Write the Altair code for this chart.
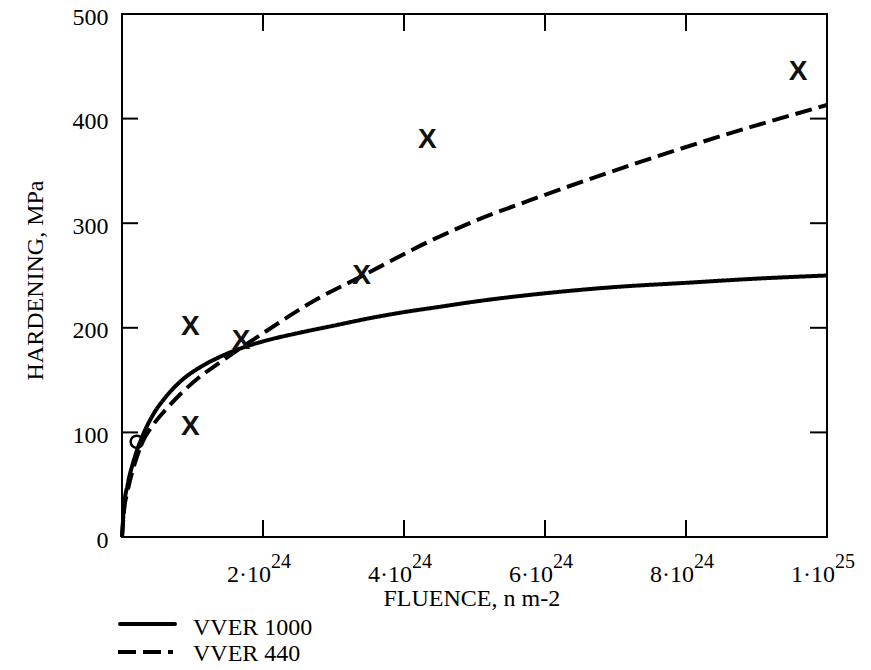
import altair as alt
import pandas as pd

# Fluence in units of 1e24 n/m^2, hardening in MPa
f_1000 = [0, 0.03, 0.08, 0.18, 0.3, 0.45, 0.61, 0.85, 1.1, 1.35, 1.67, 2.0, 2.5, 3.0, 3.5, 4.0, 4.5, 5.0, 6.0, 7.0, 8.0, 9.0, 10.0]
h_1000 = [0, 30, 50, 76, 98, 118, 133, 150, 162, 171, 180, 187, 195, 202, 209, 215, 220, 225, 233, 239, 243, 247, 250]

f_440 = [0, 0.03, 0.08, 0.18, 0.3, 0.45, 0.61, 0.85, 1.1, 1.35, 1.67, 2.14, 2.7, 3.42, 4.37, 5.0, 5.79, 7.06, 8.48, 10.0]
h_440 = [0, 26, 44, 70, 92, 108, 121, 138, 153, 165, 180, 201, 225, 250, 283, 302, 322, 352, 383, 413]

# measured points ("X" markers) and the single "o" point
x_pts_f = [0.97, 0.97, 1.69, 3.40, 4.33, 9.59]
x_pts_h = [201, 105, 187, 250, 380, 445]
o_pts_f = [0.21]
o_pts_h = [91]

# tick values and labels
xtick_vals = [2, 4, 6, 8, 10]
xtick_base = ["2·10", "4·10", "6·10", "8·10", "1·10"]
xtick_exp = ["24", "24", "24", "24", "25"]
ytick_vals = [0, 100, 200, 300, 400, 500]
yinner_ticks = [100, 200, 300, 400]

series_names = ["VVER 1000", "VVER 440"]

SERIF = "Liberation Serif"
W, H = 705, 523

curves = pd.concat([
    pd.DataFrame({"f": f_1000, "h": h_1000, "s": series_names[0]}),
    pd.DataFrame({"f": f_440, "h": h_440, "s": series_names[1]}),
])
xpts = pd.DataFrame({"f": x_pts_f, "h": x_pts_h})
opts = pd.DataFrame({"f": o_pts_f, "h": o_pts_h})
xt = pd.DataFrame({"f": xtick_vals, "base": xtick_base, "exp": xtick_exp})
yt = pd.DataFrame({"h": yinner_ticks})

xscale = alt.Scale(domain=[0, 10], nice=False, zero=False)
yscale = alt.Scale(domain=[0, 500], nice=False)

xaxis = alt.Axis(labels=False, ticks=False, domain=False, grid=False,
                 title="FLUENCE, n m-2", titleFont=SERIF, titleFontSize=24,
                 titleFontWeight="normal", titleColor="black",
                 titleX=261, titleY=68, titleAlign="left", titleBaseline="alphabetic")
yaxis = alt.Axis(values=ytick_vals, ticks=False, tickSize=0, domain=False, grid=False,
                 labelFont=SERIF, labelFontSize=24, labelColor="black", labelPadding=14,
                 labelOffset=3,
                 title="HARDENING, MPa", titleFont=SERIF, titleFontSize=24,
                 titleFontWeight="normal", titleColor="black", titleAngle=270,
                 titleX=-80, titleY=366, titleAlign="left", titleBaseline="alphabetic")

X = alt.X("f:Q", scale=xscale, axis=xaxis)
Y = alt.Y("h:Q", scale=yscale, axis=yaxis)

omarks = alt.Chart(opts).mark_point(shape="circle", size=150, strokeWidth=2.5, color="black",
                                    opacity=1, filled=False).encode(x=X, y=Y)

lines = alt.Chart(curves).mark_line(strokeWidth=4, color="black", interpolate="monotone").encode(
    x=X, y=Y,
    strokeDash=alt.StrokeDash("s:N", scale=alt.Scale(domain=series_names, range=[[1, 0], [17, 7]]), legend=None),
    detail="s:N",
)

xmarks = alt.Chart(xpts).mark_text(text="X", font="Liberation Sans", fontWeight="bold",
                                   fontSize=28, align="center", baseline="middle",
                                   color="#111").encode(x=X, y=Y)

ytick_left = alt.Chart(yt).mark_rule(strokeWidth=2, color="black").encode(
    y=Y, x=alt.value(0), x2=alt.value(16))
ytick_right = alt.Chart(yt).mark_rule(strokeWidth=2, color="black").encode(
    y=Y, x=alt.value(W - 17), x2=alt.value(W))
xtick_bottom = alt.Chart(xt[xt.f < 10]).mark_rule(strokeWidth=2, color="black").encode(
    x=X, y=alt.value(H - 17), y2=alt.value(H))
xtick_top = alt.Chart(xt[xt.f < 10]).mark_rule(strokeWidth=2, color="black").encode(
    x=X, y=alt.value(0), y2=alt.value(17))

xlab_base = alt.Chart(xt).mark_text(align="right", baseline="alphabetic", dx=8,
                                    font=SERIF, fontSize=24, color="black").encode(
    x=X, y=alt.value(568), text="base:N")
xlab_exp = alt.Chart(xt).mark_text(align="left", baseline="alphabetic", dx=8,
                                   font=SERIF, fontSize=20, color="black").encode(
    x=X, y=alt.value(554), text="exp:N")

leg1 = pd.DataFrame({"s": [series_names[0]]})
leg2 = pd.DataFrame({"s": [series_names[1]]})
leg_line1 = alt.Chart(leg1).mark_rule(strokeWidth=4, color="black", strokeCap="round").encode(
    x=alt.value(-2), x2=alt.value(53), y=alt.value(610))
leg_line2 = alt.Chart(leg2).mark_rule(strokeWidth=4, color="black", strokeDash=[18, 7]).encode(
    x=alt.value(-4), x2=alt.value(51), y=alt.value(638))
leg_txt1 = alt.Chart(leg1).mark_text(align="left", baseline="alphabetic", font=SERIF,
                                     fontSize=24, color="black").encode(
    x=alt.value(71), y=alt.value(621), text="s:N")
leg_txt2 = alt.Chart(leg2).mark_text(align="left", baseline="alphabetic", font=SERIF,
                                     fontSize=24, color="black").encode(
    x=alt.value(71), y=alt.value(647), text="s:N")

chart = alt.layer(
    omarks, lines, xmarks, ytick_left, ytick_right, xtick_bottom, xtick_top,
    xlab_base, xlab_exp, leg_line1, leg_line2, leg_txt1, leg_txt2,
).properties(
    width=W, height=H,
    autosize=alt.AutoSizeParams(type="none"),
    padding={"left": 114, "top": 6, "right": 36, "bottom": 124},
    background="white",
).configure_view(stroke="black", strokeWidth=2)

chart.save("out.html", embed_options={"renderer": "svg", "actions": False})
